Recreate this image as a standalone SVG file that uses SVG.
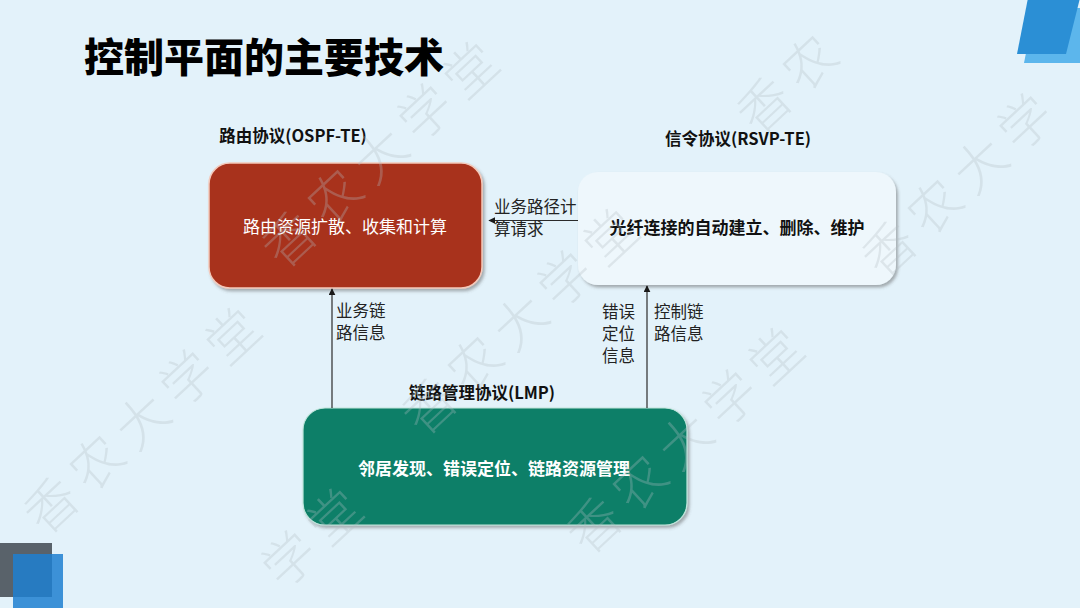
<svg xmlns="http://www.w3.org/2000/svg" width="1080" height="608" viewBox="0 0 1080 608">
  <style>
    .t { font-family: "Noto Sans CJK SC", "Noto Sans", sans-serif; }
    .title { font-size: 40px; font-weight: 900; fill: #000; }
    .hdr { font-size: 16.5px; font-weight: 700; fill: #111; text-anchor: middle; }
    .lbl { font-size: 16.5px; font-weight: 400; fill: #222; }
    .wtxt { font-size: 17px; font-weight: 400; fill: #fff; text-anchor: middle; }
    .btxt { font-size: 17px; font-weight: 700; fill: #111; text-anchor: middle; }
    .gtxt { font-size: 17px; font-weight: 700; fill: #fff; text-anchor: middle; }
    .conn { stroke: #2a2a2a; stroke-width: 1.2; fill: none; marker-end: url(#arr); }
    .wm { font-family: "Noto Sans CJK SC", sans-serif; font-size: 52px; font-weight: 300; fill: #b4bec4; opacity: 0.3; letter-spacing: 10px; }
  </style>
  <defs>
    <marker id="arr" viewBox="0 0 10 10" refX="9" refY="5" markerWidth="7" markerHeight="7" markerUnits="userSpaceOnUse" orient="auto">
      <path d="M0,0 L10,5 L0,10 z" fill="#1a1a1a"/>
    </marker>
    <filter id="sh" x="-10%" y="-10%" width="125%" height="130%">
      <feDropShadow dx="2" dy="2.5" stdDeviation="1.5" flood-color="#555" flood-opacity="0.45"/>
    </filter>
  </defs>

  <rect x="0" y="0" width="1080" height="608" fill="#e3f2fa"/>

  <!-- decorations -->
  <g id="deco">
    <polygon points="1035,8 1095,8 1084,63 1024,63" fill="#5cb6ec"/>
    <polygon points="1028,-2 1080,-2 1066,54 1017,54" fill="#2b8fd5"/>
    <rect x="0" y="543" width="52" height="54" fill="#59626a"/>
    <rect x="13" y="554" width="50" height="56" fill="#1f80d0" opacity="0.85"/>
  </g>

  <text id="title" class="t title" x="84" y="72">控制平面的主要技术</text>

  <!-- headers -->
  <text class="t hdr" x="293" y="142">路由协议(OSPF-TE)</text>
  <text class="t hdr" x="738" y="145">信令协议(RSVP-TE)</text>
  <text class="t hdr" x="482" y="399">链路管理协议(LMP)</text>

  <!-- nodes -->
  <g id="routing">
    <rect x="209" y="163" width="273" height="125" rx="21" fill="#a8311a" stroke="#f3c9bb" stroke-width="1.5" filter="url(#sh)"/>
    <text class="t wtxt" x="345" y="233">路由资源扩散、收集和计算</text>
  </g>
  <g id="signaling">
    <rect x="578" y="172" width="318" height="113" rx="20" fill="#eef7fc" filter="url(#sh)"/>
    <text class="t btxt" x="737" y="234">光纤连接的自动建立、删除、维护</text>
  </g>
  <g id="lmp">
    <rect x="303" y="408" width="384" height="117" rx="22" fill="#0f7f67" stroke="#bfe6dc" stroke-width="1.2" filter="url(#sh)"/>
    <text class="t gtxt" x="494" y="475">邻居发现、错误定位、链路资源管理</text>
  </g>

  <!-- connectors -->
  <g id="connectors">
    <line class="conn" x1="578" y1="220.5" x2="489" y2="220.5"/>
    <line class="conn" x1="332" y1="408" x2="332" y2="289"/>
    <line class="conn" x1="647" y1="408" x2="647" y2="286"/>
  </g>

  <!-- connector labels -->
  <g id="labels">
    <text class="t lbl" x="494" y="213">业务路径计</text>
    <text class="t lbl" x="494" y="235">算请求</text>
    <text class="t lbl" x="336" y="317">业务链</text>
    <text class="t lbl" x="336" y="339">路信息</text>
    <text class="t lbl" x="602" y="318">错误</text>
    <text class="t lbl" x="602" y="340">定位</text>
    <text class="t lbl" x="602" y="362">信息</text>
    <text class="t lbl" x="654" y="318">控制链</text>
    <text class="t lbl" x="654" y="340">路信息</text>
  </g>

  <!-- watermark -->
  <g id="watermark">
    <text class="wm" transform="translate(52,506) rotate(-43)" x="-26" y="18">香农大学堂</text>
    <text class="wm" transform="translate(290,560) rotate(-43)" x="-26" y="18">学堂</text>
    <text class="wm" transform="translate(290,240) rotate(-43)" x="-26" y="18">香农大学堂</text>
    <text class="wm" transform="translate(430,407) rotate(-43)" x="-26" y="18">香农大学堂</text>
    <text class="wm" transform="translate(595,526) rotate(-43)" x="-26" y="18">香农大学堂</text>
    <text class="wm" transform="translate(765,106) rotate(-43)" x="-26" y="18">香农</text>
    <text class="wm" transform="translate(890,250) rotate(-43)" x="-26" y="18">香农大学</text>
  </g>
</svg>
